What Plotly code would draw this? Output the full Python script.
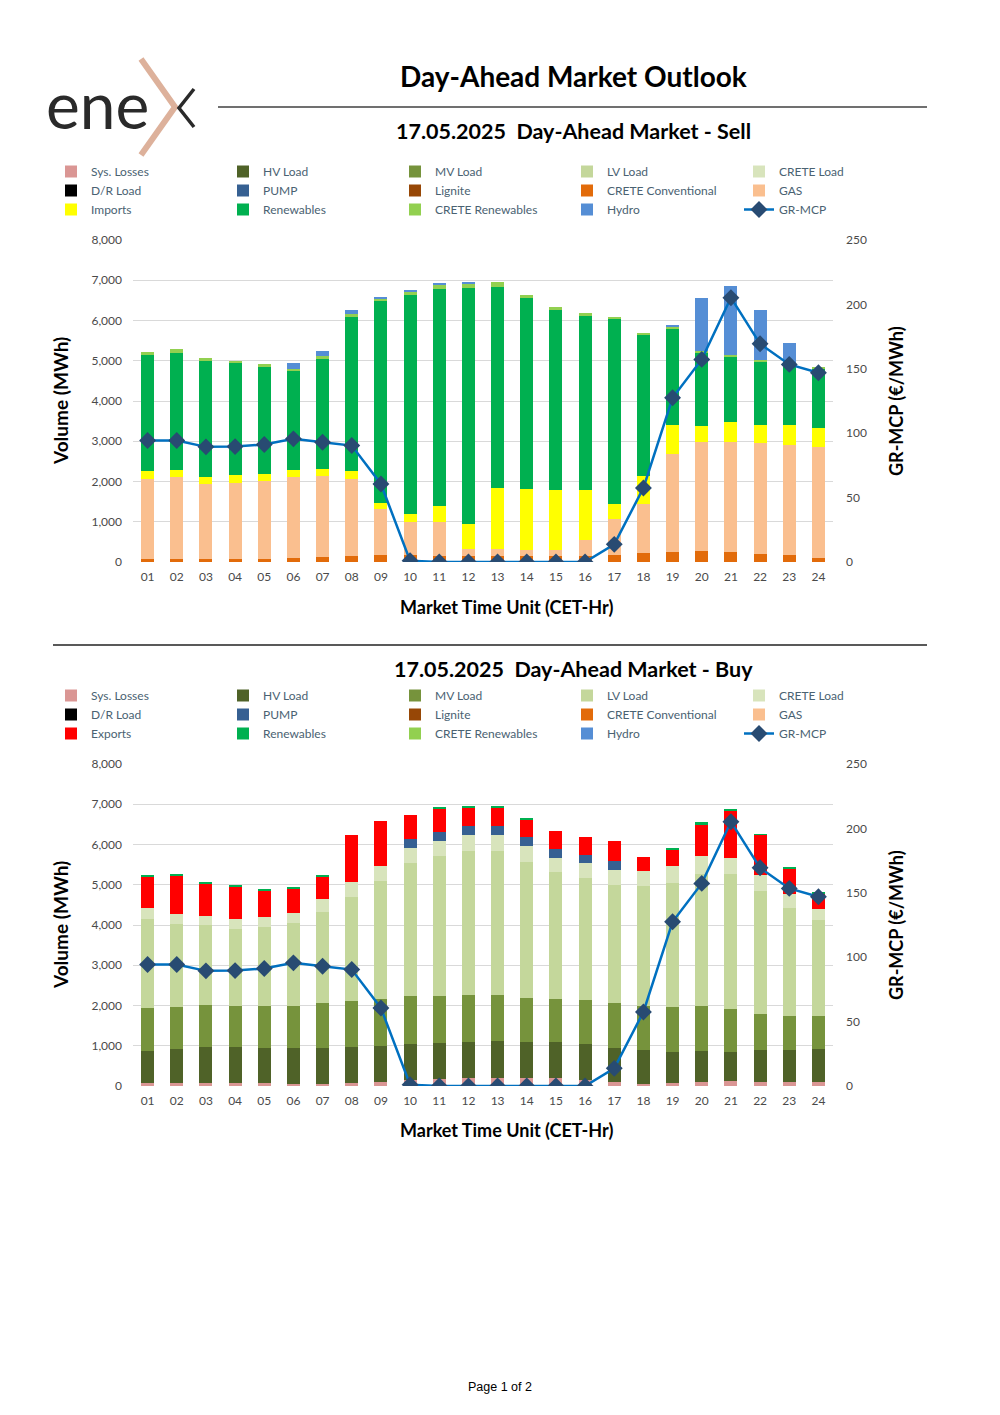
import plotly.graph_objects as go

W, H = 1000, 1415
OFF = 8  # page body margin of the browser
FONT = "Lato"

hours = ["01", "02", "03", "04", "05", "06", "07", "08", "09", "10", "11", "12",
         "13", "14", "15", "16", "17", "18", "19", "20", "21", "22", "23", "24"]

# GR-MCP price (EUR/MWh)
gr_mcp = [94.3, 94.3, 89.4, 89.6, 91.2, 95.6, 93.0, 90.4, 60.6, 1.0, 0, 0,
          0, 0, 0, 0, 13.7, 57.5, 127.5, 157.3, 205.2, 169.4, 153.4, 146.9]

NO_VOLUME = [0] * 24

# ---------------- Sell side (MWh) ----------------
sell_crete_conv = [80, 80, 80, 80, 80, 100, 115, 160, 165, 165, 160, 160,
                   160, 160, 160, 160, 180, 215, 240, 265, 240, 205, 165, 110]
sell_gas = [1985, 2034, 1860, 1885, 1943, 2006, 2033, 1913, 1153, 838, 827, 163,
            163, 147, 130, 379, 890, 1236, 2447, 2712, 2737, 2747, 2754, 2751]
sell_imports = [207, 183, 174, 191, 174, 174, 157, 191, 150, 199, 414, 614,
                1518, 1501, 1509, 1260, 381, 697, 713, 414, 506, 464, 497, 472]
sell_renewables = [2877, 2902, 2878, 2778, 2645, 2480, 2761, 3831, 5016, 5440, 5390, 5879,
                   5000, 4743, 4461, 4320, 4585, 3507, 2413, 1825, 1633, 1576, 1435, 1451]
sell_crete_ren = [75, 83, 83, 66, 67, 41, 42, 58, 67, 74, 91, 83,
                  108, 91, 83, 75, 50, 42, 33, 16, 17, 16, 16, 50]
sell_hydro = [0, 0, 0, 0, 0, 133, 141, 99, 24, 34, 42, 58,
              0, 0, 0, 0, 0, 0, 50, 1319, 1733, 1261, 564, 0]

# ---------------- Buy side (MWh) ----------------
buy_losses = [80, 75, 75, 70, 66, 58, 58, 66, 100, 149, 174, 207,
              207, 207, 191, 158, 100, 58, 66, 100, 116, 108, 100, 91]
buy_hv = [791, 845, 895, 900, 879, 887, 887, 896, 895, 896, 887, 896,
          912, 888, 895, 895, 845, 838, 788, 771, 721, 788, 787, 838]
buy_mv = [1069, 1053, 1037, 1020, 1037, 1053, 1120, 1152, 1169, 1194, 1186, 1169,
          1145, 1102, 1086, 1095, 1120, 1094, 1111, 1111, 1070, 895, 846, 821]
buy_lv = [2214, 2057, 1981, 1915, 1957, 2040, 2263, 2587, 2919, 3292, 3458, 3557,
          3582, 3375, 3151, 3026, 2934, 2977, 3068, 3283, 3358, 3060, 2695, 2371]
buy_crete_load = [266, 249, 233, 249, 248, 265, 315, 357, 381, 381, 390, 407,
                  390, 382, 349, 357, 374, 381, 423, 440, 407, 381, 340, 265]
buy_pump = [0, 0, 0, 0, 0, 0, 0, 0, 0, 224, 223, 223,
            215, 223, 224, 207, 216, 0, 0, 0, 0, 0, 0, 0]
buy_exports = [787, 961, 820, 813, 680, 597, 564, 1169, 1120, 605, 573, 465,
               456, 440, 447, 448, 506, 349, 415, 804, 1161, 1004, 630, 407]
buy_renewables = [33, 34, 25, 33, 33, 34, 33, 0, 0, 0, 24, 25,
                  33, 25, 0, 0, 0, 0, 25, 42, 33, 24, 33, 33]

COLORS = {
    "Sys. Losses": "#DA9694", "HV Load": "#4F6228", "MV Load": "#76933C",
    "LV Load": "#C4D79B", "CRETE Load": "#D8E4BC", "D/R Load": "#000000",
    "PUMP": "#366092", "Lignite": "#974706", "CRETE Conventional": "#E26B0A",
    "GAS": "#FABF8F", "Imports": "#FFFF00", "Exports": "#FF0000",
    "Renewables": "#00B050", "CRETE Renewables": "#92D050", "Hydro": "#558ED5",
}

sell_series = [
    ("Sys. Losses", NO_VOLUME), ("HV Load", NO_VOLUME), ("MV Load", NO_VOLUME),
    ("LV Load", NO_VOLUME), ("CRETE Load", NO_VOLUME), ("D/R Load", NO_VOLUME),
    ("PUMP", NO_VOLUME), ("Lignite", NO_VOLUME), ("CRETE Conventional", sell_crete_conv),
    ("GAS", sell_gas), ("Imports", sell_imports), ("Renewables", sell_renewables),
    ("CRETE Renewables", sell_crete_ren), ("Hydro", sell_hydro),
]
buy_series = [
    ("Sys. Losses", buy_losses), ("HV Load", buy_hv), ("MV Load", buy_mv),
    ("LV Load", buy_lv), ("CRETE Load", buy_crete_load), ("D/R Load", NO_VOLUME),
    ("PUMP", buy_pump), ("Lignite", NO_VOLUME), ("CRETE Conventional", NO_VOLUME),
    ("GAS", NO_VOLUME), ("Exports", buy_exports), ("Renewables", buy_renewables),
    ("CRETE Renewables", NO_VOLUME), ("Hydro", NO_VOLUME),
]


def px(x):
    return (x - OFF) / W


def py(y):
    return 1 - (y - OFF) / H


fig = go.Figure()

for (xa, ya, ya2, leg, series) in [("x", "y", "y2", "legend", sell_series),
                                    ("x2", "y3", "y4", "legend2", buy_series)]:
    for name, vals in series:
        fig.add_trace(go.Bar(
            x=hours, y=vals, name=name, xaxis=xa, yaxis=ya, legend=leg,
            marker=dict(color=COLORS[name], line=dict(width=0)),
        ))
    fig.add_trace(go.Scatter(
        x=hours, y=gr_mcp, name="GR-MCP", xaxis=xa, yaxis=ya2, legend=leg,
        mode="lines+markers",
        line=dict(color="#0070C0", width=2.5),
        marker=dict(symbol="diamond", size=13, color="#284B72"),
    ))

tickfont = dict(family=FONT, size=12, color="#4A4A4A")
xdom = [px(133), px(833)]

vol_axis = dict(range=[0, 8000], dtick=1000, tickformat=",d", showgrid=True,
                gridcolor="#D9D9D9", gridwidth=1, zeroline=False, showline=False,
                ticks="", tickfont=tickfont, ticklabelstandoff=10, fixedrange=True)
price_axis = dict(range=[0, 250], dtick=50, showgrid=False, zeroline=False,
                  showline=False, ticks="", tickfont=tickfont, side="right",
                  ticklabelstandoff=12, fixedrange=True)
cat_axis = dict(type="category", domain=xdom, range=[-0.5, 23.5], showgrid=False,
                zeroline=False, showline=False, ticks="", tickfont=tickfont,
                ticklabelstandoff=6, fixedrange=True)

legend_common = dict(orientation="h", xanchor="left", yanchor="top",
                     entrywidth=127, entrywidthmode="pixels",
                     font=dict(family=FONT, size=12, color="#4A6272"),
                     bgcolor="rgba(0,0,0,0)", itemwidth=30, tracegroupgap=0,
                     traceorder="normal", itemclick=False, itemdoubleclick=False)

annotations = []


def ann(text, x, y, size, bold=True, angle=0, color="#000000", family=FONT):
    annotations.append(dict(
        text=f"<b>{text}</b>" if bold else text, x=px(x), y=py(y),
        xref="paper", yref="paper", showarrow=False, textangle=angle,
        xanchor="center", yanchor="middle",
        font=dict(family=family, size=size, color=color)))


ann("Day-Ahead Market Outlook", 573, 76, 28)
ann("17.05.2025  Day-Ahead Market - Sell", 573, 131, 21.5)
ann("17.05.2025  Day-Ahead Market - Buy", 573, 669, 21.5)
for yc, yt in [(401, 607), (925, 1130)]:
    ann("Volume (MWh)", 60, yc, 19, angle=-90)
    ann("GR-MCP (€/MWh)", 896, yc, 18, angle=-90)
    ann("Market Time Unit (CET-Hr)", 506, yt, 18)
ann("Page 1 of 2", 500, 1387, 12.5, bold=False, family="Liberation Sans")
# logo wordmark
annotations.append(dict(text="ene", x=px(44), y=py(105), xref="paper", yref="paper",
                        showarrow=False, xanchor="left", yanchor="middle",
                        font=dict(family=FONT, size=64, color="#2A2A2A")))

shapes = [
    dict(type="line", xref="paper", yref="paper", x0=px(218), x1=px(927),
         y0=py(107), y1=py(107), line=dict(color="#404040", width=1.5)),
    dict(type="line", xref="paper", yref="paper", x0=px(53), x1=px(927),
         y0=py(645), y1=py(645), line=dict(color="#595959", width=2)),
    # logo strokes
    dict(type="path", xref="paper", yref="paper",
         path=f"M {px(141)},{py(59)} L {px(175)},{py(107)} L {px(141)},{py(155)}",
         line=dict(color="#DDB19B", width=6)),
    dict(type="path", xref="paper", yref="paper",
         path=f"M {px(194)},{py(89)} L {px(179)},{py(108)} L {px(194)},{py(127)}",
         line=dict(color="#2A2A2A", width=3.5)),
]

fig.update_layout(
    width=W, height=H, margin=dict(l=0, r=0, t=0, b=0, autoexpand=False),
    paper_bgcolor="white", plot_bgcolor="white",
    barmode="stack", bargap=0.55, showlegend=True,
    font=dict(family=FONT),
    xaxis=dict(anchor="y", **cat_axis),
    yaxis=dict(domain=[py(562), py(240)], anchor="x", **vol_axis),
    yaxis2=dict(overlaying="y", anchor="x", **price_axis),
    xaxis2=dict(anchor="y3", **cat_axis),
    yaxis3=dict(domain=[py(1086), py(764)], anchor="x2", **vol_axis),
    yaxis4=dict(overlaying="y3", anchor="x2", **price_axis),
    legend=dict(x=px(51), y=py(157), **legend_common),
    legend2=dict(x=px(51), y=py(681), **legend_common),
    annotations=annotations, shapes=shapes,
)

fig.write_html("out.html")
